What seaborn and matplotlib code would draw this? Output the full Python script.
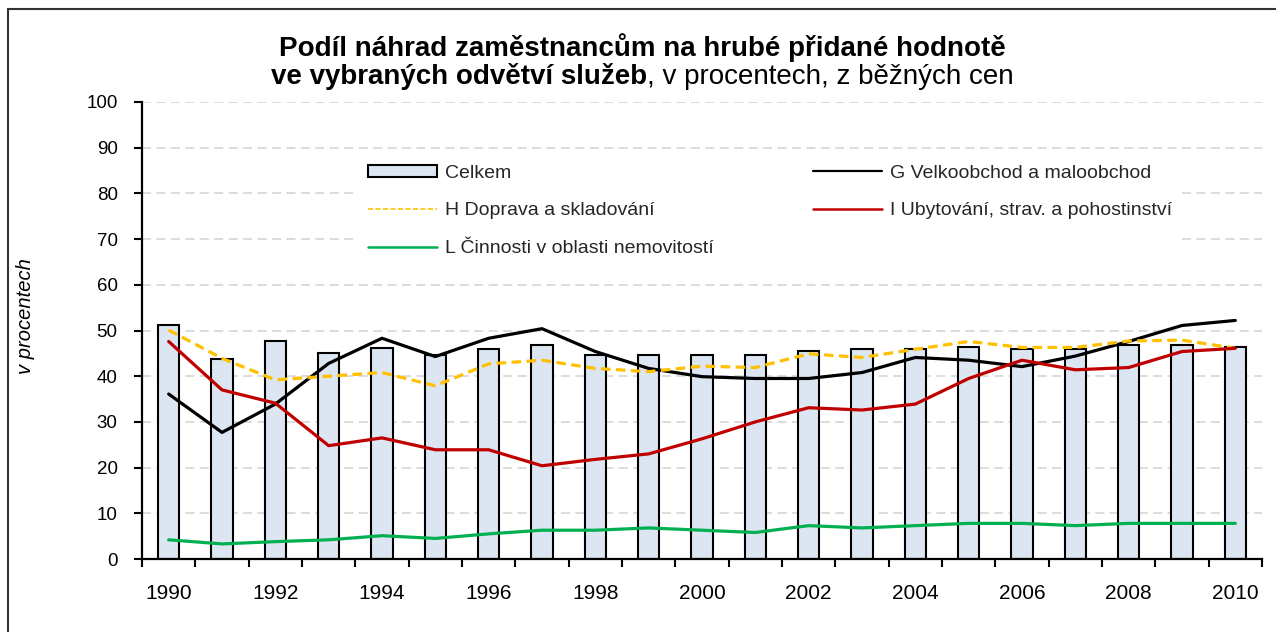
import numpy as np
import pandas as pd
import seaborn as sns
import matplotlib.pyplot as plt
from matplotlib.lines import Line2D
from matplotlib.patches import Patch, Rectangle

# data (percent)
years = list(range(1990, 2011))
celkem = [51.2, 43.7, 47.7, 45.1, 46.2, 44.6, 45.9, 46.8, 44.6, 44.6, 44.6,
          44.6, 45.5, 46.0, 46.0, 46.3, 46.0, 46.0, 46.8, 46.8, 46.4]
g_obchod = [36.1, 27.7, 33.9, 42.8, 48.3, 44.3, 48.3, 50.4, 45.4, 41.7, 39.9,
            39.5, 39.5, 40.8, 44.1, 43.5, 42.1, 44.4, 47.6, 51.1, 52.2]
h_doprava = [50.1, 43.9, 39.2, 40.0, 40.8, 37.9, 42.7, 43.5, 41.7, 41.0, 42.2,
             41.9, 44.9, 44.1, 45.9, 47.6, 46.3, 46.3, 47.7, 47.9, 46.1]
i_ubytovani = [47.6, 37.0, 34.1, 24.8, 26.5, 23.9, 23.9, 20.4, 21.8, 23.0, 26.3,
               30.0, 33.1, 32.6, 33.9, 39.5, 43.5, 41.4, 41.9, 45.4, 46.1]
l_nemovitosti = [4.2, 3.3, 3.8, 4.2, 5.1, 4.5, 5.5, 6.3, 6.3, 6.8, 6.3,
                 5.8, 7.3, 6.8, 7.3, 7.8, 7.8, 7.3, 7.8, 7.8, 7.8]

labels = ["Celkem", "G Velkoobchod a maloobchod", "H Doprava a skladování",
          "I Ubytování, strav. a pohostinství", "L Činnosti v oblasti nemovitostí"]

df = pd.DataFrame({"rok": years, "Celkem": celkem, "G": g_obchod, "H": h_doprava,
                   "I": i_ubytovani, "L": l_nemovitosti})

sns.set_theme(style="white")
plt.rcParams['font.family'] = ['Liberation Sans', 'DejaVu Sans']

W, H = 1276, 632
fig = plt.figure(figsize=(W / 100, H / 100), dpi=100)
ax = fig.add_axes([142 / W, 1 - 559 / H, 1120 / W, 457 / H])

# bars
sns.barplot(data=df, x="rok", y="Celkem", native_scale=True, width=0.4,
            color="#dce6f2", saturation=1, edgecolor="black", linewidth=1.5,
            ax=ax, zorder=2)

# lines
sns.lineplot(data=df, x="rok", y="G", color="black", lw=2.3, ax=ax, zorder=3)
sns.lineplot(data=df, x="rok", y="H", color="#ffc000", lw=2.3,
             linestyle=(0, (3, 1.7)), ax=ax, zorder=3)
sns.lineplot(data=df, x="rok", y="I", color="#c00000", lw=2.3, ax=ax, zorder=3)
sns.lineplot(data=df, x="rok", y="L", color="#00b050", lw=2.3, ax=ax, zorder=3)

# axes
ax.set_ylim(0, 100)
ax.set_yticks(range(0, 101, 10))
ax.set_xlim(years[0] - 0.5, years[-1] + 0.5)
ax.set_xticks(np.arange(years[0] - 0.5, years[-1] + 1, 1))
ax.set_xticklabels([])
ax.set_xticks(years[::2], minor=True)
ax.set_xticklabels([str(y) for y in years[::2]], minor=True)
ax.tick_params(axis='x', which='major', length=6, width=1.5, color='black',
               direction='out', bottom=True)
ax.tick_params(axis='x', which='minor', length=0, pad=18, labelsize=15,
               labelcolor='black', bottom=True)
ax.tick_params(axis='y', length=6, width=1.5, color='black', direction='out',
               left=True, pad=11.5, labelsize=13.5, labelcolor='black')

for s in ["top", "right"]:
    ax.spines[s].set_visible(False)
for s in ["left", "bottom"]:
    ax.spines[s].set_color("black")
    ax.spines[s].set_linewidth(1.6)

ax.yaxis.grid(True, color="#d9d9d9", linestyle=(0, (5, 3)), linewidth=1.3)
ax.xaxis.grid(False)
ax.set_axisbelow(True)

ax.set_xlabel("")
ax.set_ylabel("v procentech", fontstyle='italic', fontsize=14.5, color='black')
ax.yaxis.set_label_coords((35 - 142) / 1120, 0.532)

# legend
handles = [
    Patch(facecolor="#dce6f2", edgecolor="black", lw=1.5, label=labels[0]),
    Line2D([], [], color="#ffc000", lw=1.2, ls=(0, (3, 1.5)), label=labels[2]),
    Line2D([], [], color="#00b050", lw=1.8, label=labels[4]),
    Line2D([], [], color="black", lw=1.6, label=labels[1]),
    Line2D([], [], color="#c00000", lw=1.8, label=labels[3]),
]
leg = ax.legend(handles=handles, ncol=2, loc='upper left',
                bbox_to_anchor=(358 / W, 1 - 155 / H), bbox_transform=fig.transFigure,
                frameon=True, facecolor='white', edgecolor='none', framealpha=1,
                fancybox=False, fontsize=14, handlelength=3.55, handleheight=0.6,
                handletextpad=0.41, columnspacing=5.1, labelspacing=1.06,
                borderpad=0.5, borderaxespad=0)

# title
fig.text(642 / W, 1 - 48 / H, "Podíl náhrad zaměstnancům na hrubé přidané hodnotě",
         ha='center', va='center', fontsize=20, fontweight='bold', color='black')
tb = fig.text(0, 1 - 77 / H, "ve vybraných odvětví služeb", ha='left', va='center',
              fontsize=20, fontweight='bold', color='black')
tr = fig.text(0, 1 - 77 / H, ", v procentech, z běžných cen", ha='left', va='center',
              fontsize=20, color='black')
fig.canvas.draw()
r = fig.canvas.get_renderer()
wb = tb.get_window_extent(r).width
wr = tr.get_window_extent(r).width
x0 = 642 - (wb + wr) / 2
tb.set_x(x0 / W)
tr.set_x((x0 + wb) / W)

# outer frame (cut off at right and bottom, as in the reference)
fig.add_artist(Rectangle((8 / W, -0.2), 1.2, 1.2 - 9 / H, transform=fig.transFigure,
                         fill=False, edgecolor="#333333", lw=1.5))

fig.savefig("out.png", dpi=100)
